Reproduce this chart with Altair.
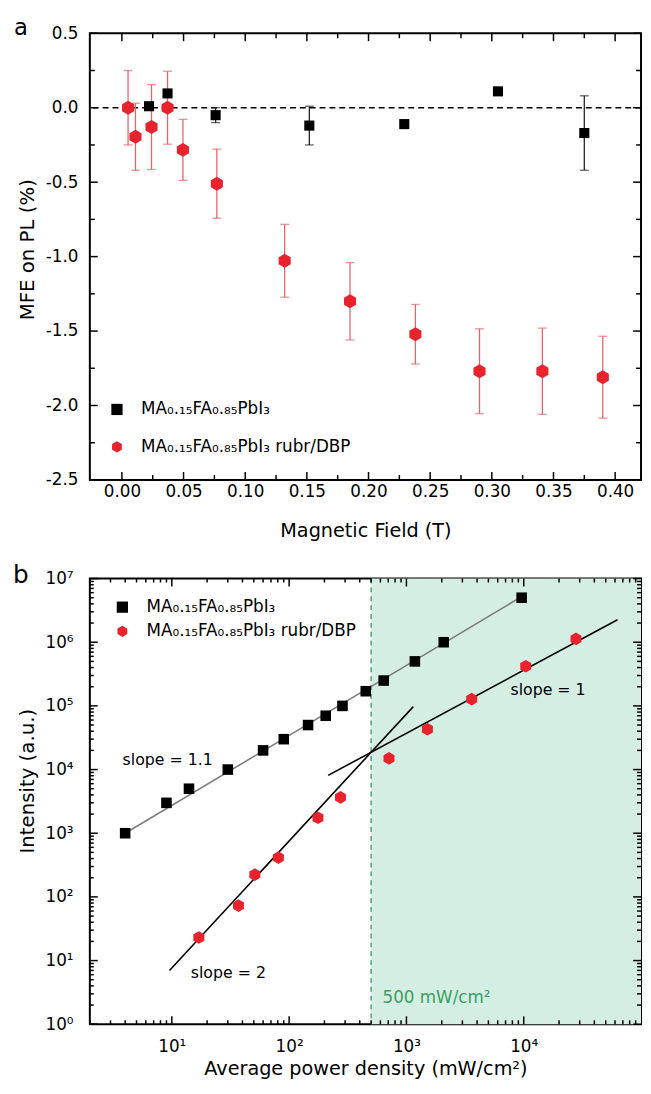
import altair as alt
import pandas as pd

FONT = "DejaVu Sans"
RED = "#e8232e"
RED_ERR = "#e8636c"
BLACK_ERR = "#222222"
GREEN_FILL = "#d5eee3"
GREEN = "#3a9f66"
GRAY = "#7d7d7d"

S1 = "MA₀.₁₅FA₀.₈₅PbI₃"
S2 = "MA₀.₁₅FA₀.₈₅PbI₃ rubr/DBP"
SERIES = [S1, S2]
HEX = "M0,-1L0.866,-0.5L0.866,0.5L0,1L-0.866,0.5L-0.866,-0.5Z"

W = 559
HA = 453
HB = 452

# ---------------- panel a data ----------------
a_black_field = [0.022, 0.037, 0.076, 0.152, 0.229, 0.305, 0.375]
a_black_mfe = [0.01, 0.096, -0.05, -0.12, -0.11, 0.11, -0.17]
a_black_err = [0.0, 0.0, 0.05, 0.13, 0.0, 0.0, 0.25]

a_red_field = [0.005, 0.011, 0.024, 0.037, 0.0495, 0.077, 0.132, 0.185, 0.238, 0.290, 0.341, 0.390]
a_red_mfe = [0.0, -0.195, -0.13, 0.0, -0.283, -0.51, -1.028, -1.30, -1.521, -1.77, -1.77, -1.81]
a_red_err = [0.25, 0.225, 0.285, 0.245, 0.205, 0.232, 0.245, 0.26, 0.20, 0.285, 0.29, 0.275]

a_x_domain = [-0.026, 0.421]
a_y_domain = [-2.5, 0.5]
a_x_ticks = [0.00, 0.05, 0.10, 0.15, 0.20, 0.25, 0.30, 0.35, 0.40]
a_x_minor = [0.025, 0.075, 0.125, 0.175, 0.225, 0.275, 0.325, 0.375]
a_y_ticks = [-2.5, -2.0, -1.5, -1.0, -0.5, 0.0, 0.5]
a_y_minor = [-2.25, -1.75, -1.25, -0.75, -0.25, 0.25]

# ---------------- panel b data ----------------
b_black_power = [4, 9, 14, 30, 60, 90, 145, 205, 285, 450, 640, 1180, 2080, 9600]
b_black_int = [1e3, 3e3, 5e3, 1e4, 2e4, 3e4, 5e4, 7e4, 1e5, 1.7e5, 2.5e5, 5e5, 1e6, 5e6]
b_red_power = [17, 37, 51, 81, 176, 274, 710, 1510, 3600, 10400, 27900]
b_red_int = [23, 73, 224, 414, 1750, 3650, 1.5e4, 4.3e4, 1.28e5, 4.2e5, 1.13e6]

fit_gray_x = [4, 9600]
fit_gray_y = [1000, 5.2e6]
fit_s2_x = [9.55, 1145]
fit_s2_y = [7.0, 9.75e4]
fit_s1_x = [215, 63000]
fit_s1_y = [8100, 2.25e6]

threshold_x = 500
b_x_domain = [2, 100000]
b_y_domain = [1, 10000000]
b_x_ticks = [10, 100, 1000, 10000]
b_x_labels = ["10¹", "10²", "10³", "10⁴"]
b_y_ticks = [1, 10, 100, 1000, 10000, 100000, 1000000, 10000000]
b_y_labels = ["10⁰", "10¹", "10²", "10³", "10⁴", "10⁵", "10⁶", "10⁷"]
b_x_minor = [m * d for d in [1, 10, 100, 1000, 10000] for m in range(2, 10) if 2 <= m * d < 100000]
b_y_minor = [m * d for d in [1, 10, 100, 1000, 10000, 100000, 1000000] for m in range(2, 10)]

notes_text = ["slope = 1.1", "slope = 2", "slope = 1"]
notes_x = [3.8, 14.5, 7700]
notes_y = [1.43e4, 6.25, 1.76e5]
thr_text = "500 mW/cm²"
thr_x = 625
thr_y = 2.57


def sup_expr(vals, labels):
    s = "''"
    for v, l in reversed(list(zip(vals, labels))):
        s = f"datum.value == {v} ? '{l}' : ({s})"
    return s


def make_legend(x, y, rowpad):
    return alt.Legend(orient="none", legendX=x, legendY=y, title=None,
                      labelFont=FONT, labelFontSize=17, labelColor="black",
                      symbolSize=130, symbolStrokeWidth=0, rowPadding=rowpad,
                      labelOffset=16, padding=0, labelLimit=500)


color_scale = alt.Scale(domain=SERIES, range=["black", RED])
shape_scale = alt.Scale(domain=SERIES, range=["square", HEX])

# ================= panel a =================
xa = alt.Scale(domain=a_x_domain, nice=False, zero=False)
ya = alt.Scale(domain=a_y_domain, nice=False, zero=False)
ax_a_x = alt.Axis(values=a_x_ticks, format=".2f", labelPadding=4,
                  title="Magnetic Field (T)", titlePadding=22, titleFontSize=19.5)
ax_a_y = alt.Axis(values=a_y_ticks,
                  labelExpr="replace(format(datum.value, '.1f'), '\u2212', '-')",
                  labelPadding=12, title="MFE on PL (%)", titlePadding=8, titleFontSize=20,
                  titleY=219)


def XA(f):
    return alt.X(f, scale=xa, axis=ax_a_x)


def YA(f):
    return alt.Y(f, scale=ya, axis=ax_a_y)


dfa_b = pd.DataFrame({"field": a_black_field, "mfe": a_black_mfe, "err": a_black_err, "series": S1})
dfa_b["lo"] = dfa_b["mfe"] - dfa_b["err"]
dfa_b["hi"] = dfa_b["mfe"] + dfa_b["err"]
dfa_b_err = dfa_b[dfa_b["err"] > 0]
dfa_r = pd.DataFrame({"field": a_red_field, "mfe": a_red_mfe, "err": a_red_err, "series": S2})
dfa_r["lo"] = dfa_r["mfe"] - dfa_r["err"]
dfa_r["hi"] = dfa_r["mfe"] + dfa_r["err"]

leg_a = make_legend(19, 373, 20)


def tick_layers(vals, length, X, Y, H):
    df = pd.DataFrame({"v": vals})
    base = alt.Chart(df).mark_rule(color="black", strokeWidth=1.5)
    if X is not None:
        return [base.encode(x=X("v:Q"), y=alt.value(H), y2=alt.value(H - length)),
                base.encode(x=X("v:Q"), y=alt.value(0), y2=alt.value(length))]
    return [base.encode(y=Y("v:Q"), x=alt.value(0), x2=alt.value(length)),
            base.encode(y=Y("v:Q"), x=alt.value(W), x2=alt.value(W - length))]


zero_line = alt.Chart(pd.DataFrame({"z": [0.0]})).mark_rule(
    color="black", strokeWidth=1.6, strokeDash=[6, 4]).encode(y=YA("z:Q"))

a_layers = [zero_line]
a_layers += tick_layers(a_x_ticks, 8, XA, None, HA)
a_layers += tick_layers(a_x_minor, 5, XA, None, HA)
a_layers += tick_layers(a_y_ticks, 8, None, YA, HA)
a_layers += tick_layers(a_y_minor, 5, None, YA, HA)


def err_layers(df, color):
    r = alt.Chart(df).mark_rule(color=color, strokeWidth=1.3).encode(
        x=XA("field:Q"), y=YA("lo:Q"), y2="hi:Q")
    c1 = alt.Chart(df).mark_tick(orient="horizontal", color=color, size=9, thickness=1.3).encode(
        x=XA("field:Q"), y=YA("lo:Q"))
    c2 = alt.Chart(df).mark_tick(orient="horizontal", color=color, size=9, thickness=1.3).encode(
        x=XA("field:Q"), y=YA("hi:Q"))
    return [r, c1, c2]


a_layers += err_layers(dfa_b_err, BLACK_ERR)
a_layers += err_layers(dfa_r, RED_ERR)

a_pts_black = alt.Chart(dfa_b).mark_point(filled=True, opacity=1, size=105).encode(
    x=XA("field:Q"), y=YA("mfe:Q"),
    color=alt.Color("series:N", scale=color_scale, legend=leg_a),
    shape=alt.Shape("series:N", scale=shape_scale, legend=leg_a),
)
a_pts_red = alt.Chart(dfa_r).mark_point(filled=True, opacity=1, size=200).encode(
    x=XA("field:Q"), y=YA("mfe:Q"),
    color=alt.Color("series:N", scale=color_scale, legend=leg_a),
    shape=alt.Shape("series:N", scale=shape_scale, legend=leg_a),
)
a_letter = alt.Chart(pd.DataFrame({"t": ["a"]})).mark_text(
    font=FONT, fontSize=23, align="center", baseline="top", color="black").encode(
    x=alt.value(-70), y=alt.value(-16), text="t:N")

a_layers += [a_pts_black, a_pts_red, a_letter]
top = alt.layer(*a_layers).properties(width=W, height=HA)

# ================= panel b =================
xb = alt.Scale(type="log", domain=b_x_domain, nice=False)
yb = alt.Scale(type="log", domain=b_y_domain, nice=False)
ax_b_x = alt.Axis(values=b_x_ticks, labelExpr=sup_expr(b_x_ticks, b_x_labels),
                  labelPadding=14.5, title="Average power density (mW/cm²)", titlePadding=5,
                  titleFontSize=19.5)
ax_b_y = alt.Axis(values=b_y_ticks, labelExpr=sup_expr(b_y_ticks, b_y_labels),
                  labelPadding=17, title="Intensity (a.u.)", titlePadding=8, titleFontSize=20,
                  titleY=205)


def XB(f):
    return alt.X(f, scale=xb, axis=ax_b_x)


def YB(f):
    return alt.Y(f, scale=yb, axis=ax_b_y)


leg_b = make_legend(24.5, 20.5, 6.5)

shade = alt.Chart(pd.DataFrame({"x1": [threshold_x], "x2": [b_x_domain[1]],
                                "y1": [b_y_domain[0]], "y2": [b_y_domain[1]]})).mark_rect(
    color=GREEN_FILL, opacity=1).encode(
    x=XB("x1:Q"), x2="x2:Q", y=YB("y1:Q"), y2="y2:Q")
thr_line = alt.Chart(pd.DataFrame({"x": [threshold_x]})).mark_rule(
    color=GREEN, strokeWidth=1.4, strokeDash=[5, 4]).encode(x=XB("x:Q"))

b_layers = [shade, thr_line]
b_layers += tick_layers(b_x_ticks, 8, XB, None, HB)
b_layers += tick_layers(b_x_minor, 4, XB, None, HB)
b_layers += tick_layers(b_y_ticks, 8, None, YB, HB)
b_layers += tick_layers(b_y_minor, 4, None, YB, HB)


def fit_line(xs, ys, color):
    return alt.Chart(pd.DataFrame({"x": xs, "y": ys})).mark_line(
        color=color, strokeWidth=1.6).encode(x=XB("x:Q"), y=YB("y:Q"))


b_layers += [fit_line(fit_gray_x, fit_gray_y, GRAY),
             fit_line(fit_s2_x, fit_s2_y, "black"),
             fit_line(fit_s1_x, fit_s1_y, "black")]

dfb_b = pd.DataFrame({"p": b_black_power, "i": b_black_int, "series": S1})
dfb_r = pd.DataFrame({"p": b_red_power, "i": b_red_int, "series": S2})

b_pts_black = alt.Chart(dfb_b).mark_point(filled=True, opacity=1, size=115).encode(
    x=XB("p:Q"), y=YB("i:Q"),
    color=alt.Color("series:N", scale=color_scale, legend=leg_b),
    shape=alt.Shape("series:N", scale=shape_scale, legend=leg_b),
)
b_pts_red = alt.Chart(dfb_r).mark_point(filled=True, opacity=1, size=165).encode(
    x=XB("p:Q"), y=YB("i:Q"),
    color=alt.Color("series:N", scale=color_scale, legend=leg_b),
    shape=alt.Shape("series:N", scale=shape_scale, legend=leg_b),
)
notes = alt.Chart(pd.DataFrame({"t": notes_text, "x": notes_x, "y": notes_y})).mark_text(
    font=FONT, fontSize=16, align="left", baseline="middle", color="black").encode(
    x=XB("x:Q"), y=YB("y:Q"), text="t:N")
thr_note = alt.Chart(pd.DataFrame({"t": [thr_text], "x": [thr_x], "y": [thr_y]})).mark_text(
    font=FONT, fontSize=17, align="left", baseline="middle", color=GREEN).encode(
    x=XB("x:Q"), y=YB("y:Q"), text="t:N")
b_letter = alt.Chart(pd.DataFrame({"t": ["b"]})).mark_text(
    font=FONT, fontSize=25, align="center", baseline="top", color="black").encode(
    x=alt.value(-70), y=alt.value(-15), text="t:N")

b_layers += [b_pts_black, b_pts_red, notes, thr_note, b_letter]
bottom = alt.layer(*b_layers).properties(width=W, height=HB)

chart = alt.vconcat(top, bottom, spacing=22).resolve_scale(
    color="independent", shape="independent").properties(
    padding={"left": 4, "top": 1, "right": 0, "bottom": 0}).configure_view(
    stroke="black", strokeWidth=2).configure_axis(
    labelFont=FONT, titleFont=FONT, labelFontSize=17,
    labelColor="black", titleColor="black", titleFontWeight="normal",
    grid=False, ticks=False, domain=False, tickSize=0, labelFlush=False)

chart.save("out.html", embed_options={"renderer": "svg", "actions": False})
